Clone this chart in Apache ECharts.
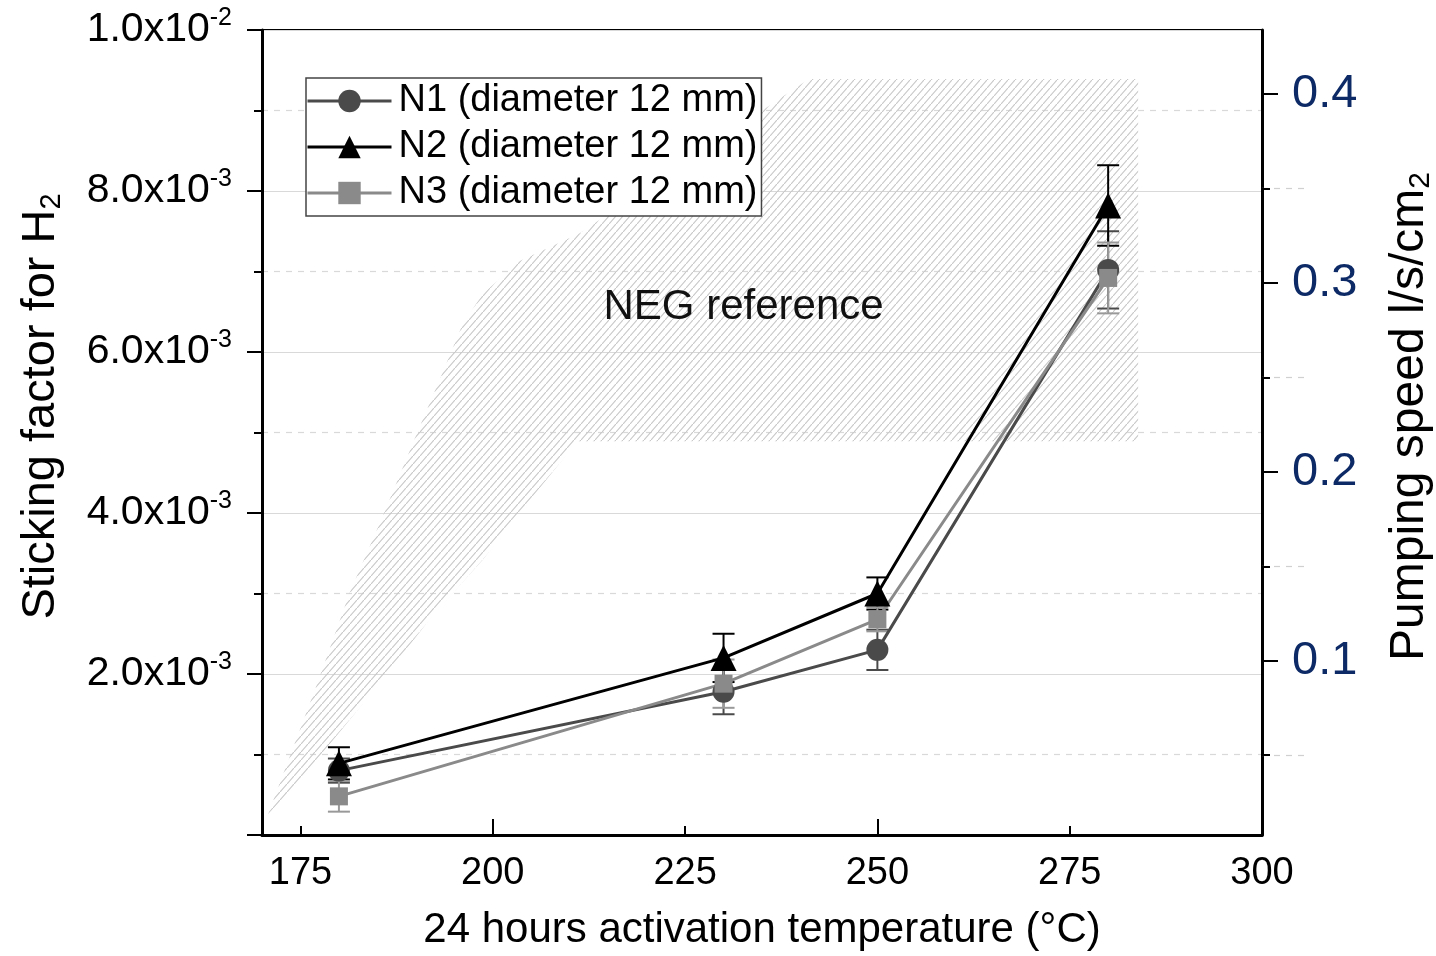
<!DOCTYPE html>
<html><head><meta charset="utf-8">
<script src="https://cdn.jsdelivr.net/npm/echarts@6/dist/echarts.min.js"></script>
<style>html,body{margin:0;padding:0;background:#fff}#c{width:1436px;height:956px}</style>
</head><body><div id="c"></div>
<script>
// ---- data ----
const temperatures = [180, 230, 250, 280];
const n1Values = [0.80e-3, 1.78e-3, 2.30e-3, 7.02e-3];
const n1Errors = [0.15e-3, 0.28e-3, 0.25e-3, 0.48e-3];
const n2Values = [0.89e-3, 2.20e-3, 3.00e-3, 7.82e-3];
const n2Errors = [0.20e-3, 0.30e-3, 0.20e-3, 0.50e-3];
const n3Values = [0.48e-3, 1.88e-3, 2.68e-3, 6.92e-3];
const n3Errors = [0.19e-3, 0.30e-3, 0.15e-3, 0.44e-3];
const seriesNames = ['N1 (diameter 12 mm)', 'N2 (diameter 12 mm)', 'N3 (diameter 12 mm)'];
const xTickLabels = [175, 200, 225, 250, 275, 300];
const xMajorTicks = [200, 250, 300];
const rightTickLabels = [0.1, 0.2, 0.3, 0.4];
const rightMinorTicks = [0.05, 0.15, 0.25, 0.35];
// NEG reference band outline (temperature, sticking factor)
const negRefTemp  = [170.8, 177.1, 181.4, 185.7, 190.1, 193.5, 196.1, 198.7, 203.5, 211.2, 241.1, 283.9, 283.9, 211.0, 204.4, 198.7, 192.2, 186.6, 174.9];
const negRefStick = [0.26e-3, 1.86e-3, 3.01e-3, 3.96e-3, 4.98e-3, 5.75e-3, 6.35e-3, 6.72e-3, 7.13e-3, 7.47e-3, 9.39e-3, 9.39e-3, 4.89e-3, 4.89e-3, 4.11e-3, 3.42e-3, 2.73e-3, 2.04e-3, 0.67e-3];
const negLabel = 'NEG reference';
const negLabelAt = [232.6, 6.55e-3];

const FONT = 'Liberation Sans, Arial, sans-serif';
const colors = ['#4a4a4a', '#000000', '#8a8a8a'];

// hatch pattern
const PW = 7, PH = 8;
const pc = document.createElement('canvas');
pc.width = PW; pc.height = PH;
const pctx = pc.getContext('2d');
pctx.strokeStyle = '#c6c6c6'; pctx.lineWidth = 1.1;
pctx.beginPath();
pctx.moveTo(-PW, 2 * PH); pctx.lineTo(2 * PW, -PH);
pctx.stroke();

function fmtSci(v) {
  if (v === 0) return '';
  const e = Math.floor(Math.log10(v) + 1e-9);
  const m = v / Math.pow(10, e);
  return '{b|' + m.toFixed(1) + 'x10}{sup|' + e + '}';
}

function errRender(color) {
  return function (params, api) {
    const x = api.value(0), y = api.value(1), e = api.value(2);
    const t = api.coord([x, y + e]), b = api.coord([x, y - e]);
    const w = 11;
    const st = { stroke: color, lineWidth: 2 };
    return { type: 'group', children: [
      { type: 'line', shape: { x1: t[0], y1: t[1], x2: b[0], y2: b[1] }, style: st },
      { type: 'line', shape: { x1: t[0] - w, y1: t[1], x2: t[0] + w, y2: t[1] }, style: st },
      { type: 'line', shape: { x1: b[0] - w, y1: b[1], x2: b[0] + w, y2: b[1] }, style: st }
    ] };
  };
}

const chart = echarts.init(document.getElementById('c'));
const pairs = (vals) => temperatures.map((t, i) => [t, vals[i]]);
const errs = (vals, errsArr) => temperatures.map((t, i) => [t, vals[i], errsArr[i]]);

const option = {
  backgroundColor: '#fff',
  animation: false,
  textStyle: { fontFamily: FONT },
  grid: { left: 262, right: 174, top: 30, bottom: 121, show: true, borderColor: '#000', borderWidth: 2,
          containLabel: false, outerBoundsMode: 'none' },
  legend: {
    data: seriesNames,
    orient: 'vertical', left: 306, top: 78,
    itemWidth: 84, itemHeight: 28, itemGap: 4,
    padding: [2, 4, 2, 0],
    borderColor: '#444', borderWidth: 1.5, backgroundColor: '#fff',
    lineStyle: { width: 3 },
    textStyle: { fontSize: 38, lineHeight: 42, color: '#000', fontFamily: FONT, padding: [0, 0, 0, 2] }
  },
  xAxis: [{
    type: 'value', min: 170, max: 300, position: 'bottom',
    axisLine: { lineStyle: { color: '#000', width: 3 } },
    axisTick: { inside: true, length: 9, customValues: xTickLabels, lineStyle: { color: '#000', width: 2 } },
    axisLabel: { customValues: xTickLabels, fontSize: 38, color: '#000', margin: 20, fontFamily: FONT },
    splitLine: { show: false },
    name: '24 hours activation temperature (°C)', nameLocation: 'middle', nameGap: 74,
    nameTextStyle: { fontSize: 42, color: '#000', fontFamily: FONT, verticalAlign: 'top' }
  }, {
    type: 'value', min: 170, max: 300, position: 'bottom',
    axisLine: { show: false },
    axisTick: { inside: true, length: 16, customValues: xMajorTicks, lineStyle: { color: '#000', width: 2 } },
    axisLabel: { show: false }, splitLine: { show: false }
  }],
  yAxis: [{
    type: 'value', min: 0, max: 0.01, interval: 0.002, position: 'left',
    axisLine: { show: true, lineStyle: { color: '#000', width: 3 } },
    axisTick: { show: true, length: 15, lineStyle: { color: '#000', width: 2 } },
    minorTick: { show: true, splitNumber: 2, length: 8, lineStyle: { color: '#000', width: 2 } },
    splitLine: { show: true, lineStyle: { color: '#d9d9d9', width: 1.2 } },
    minorSplitLine: { show: true, lineStyle: { color: '#d9d9d9', width: 1.2, type: [6, 6] } },
    axisLabel: {
      formatter: fmtSci, margin: 30, color: '#000',
      rich: {
        b: { fontSize: 41, fontFamily: FONT, color: '#000' },
        sup: { fontSize: 25, fontFamily: FONT, color: '#000', padding: [0, 0, 24, 0] }
      }
    },
    name: 'Sticking factor for H{sub|2}', nameLocation: 'middle', nameGap: 196,
    nameTextStyle: {
      fontSize: 47, color: '#000', fontFamily: FONT, padding: [0, 0, 0, 52],
      rich: { sub: { fontSize: 29, fontFamily: FONT, color: '#000', padding: [20, 0, 0, 0] } }
    }
  }, {
    type: 'value', min: 0.0077, max: 0.434, position: 'right',
    axisLine: { show: true, lineStyle: { color: '#000', width: 3 } },
    axisTick: { show: true, length: 16, customValues: rightTickLabels, lineStyle: { color: '#000', width: 2 } },
    axisLabel: { customValues: rightTickLabels, formatter: v => v.toFixed(1), fontSize: 47, color: '#0d2a66', margin: 30, fontFamily: FONT },
    splitLine: { show: false },
    name: 'Pumping speed l/s/cm{sub|2}', nameLocation: 'middle', nameGap: 122,
    nameTextStyle: {
      fontSize: 48, color: '#000', fontFamily: FONT, padding: [0, 0, 0, 32],
      rich: { sub: { fontSize: 30, fontFamily: FONT, color: '#000', padding: [22, 0, 0, 0] } }
    }
  }, {
    type: 'value', min: 0.0077, max: 0.434, position: 'right',
    axisLine: { show: false },
    axisTick: { show: true, length: 48, customValues: rightMinorTicks, lineStyle: { color: '#d0d0d0', width: 1.2, type: [6, 6] } },
    axisLabel: { show: false }, splitLine: { show: false }
  }, {
    type: 'value', min: 0.0077, max: 0.434, position: 'right',
    axisLine: { show: false },
    axisTick: { show: true, length: 8, customValues: rightMinorTicks, lineStyle: { color: '#000', width: 2 } },
    axisLabel: { show: false }, splitLine: { show: false }
  }],
  series: [
    {
      type: 'custom', name: 'NEG reference', silent: true, z: 1,
      data: [[negRefTemp[0], negRefStick[0]]],
      renderItem: function (params, api) {
        const pts = negRefTemp.map((t, i) => api.coord([t, negRefStick[i]]));
        const lp = api.coord(negLabelAt);
        return { type: 'group', children: [
          { type: 'polygon', shape: { points: pts }, style: { fill: { image: pc, repeat: 'repeat' }, stroke: null } },
          { type: 'text', x: lp[0], y: lp[1], style: { text: negLabel, fill: '#111', font: '42px ' + FONT, align: 'center', verticalAlign: 'middle' } }
        ] };
      }
    },
    { type: 'custom', name: 'e1', data: errs(n1Values, n1Errors), renderItem: errRender(colors[0]), z: 3, silent: true },
    { type: 'custom', name: 'e2', data: errs(n2Values, n2Errors), renderItem: errRender(colors[1]), z: 3, silent: true },
    { type: 'custom', name: 'e3', data: errs(n3Values, n3Errors), renderItem: errRender('#999999'), z: 3, silent: true },
    { type: 'line', name: seriesNames[0], data: pairs(n1Values), symbol: 'circle', symbolSize: 22, z: 4,
      lineStyle: { color: colors[0], width: 3 }, itemStyle: { color: colors[0] } },
    { type: 'line', name: seriesNames[1], data: pairs(n2Values), symbol: 'triangle', symbolSize: 26, z: 5,
      lineStyle: { color: colors[1], width: 3 }, itemStyle: { color: colors[1] } },
    { type: 'line', name: seriesNames[2], data: pairs(n3Values), symbol: 'rect', symbolSize: 18, z: 4,
      lineStyle: { color: colors[2], width: 3 }, itemStyle: { color: colors[2] } }
  ]
};
chart.setOption(option);
</script>
</body></html>
